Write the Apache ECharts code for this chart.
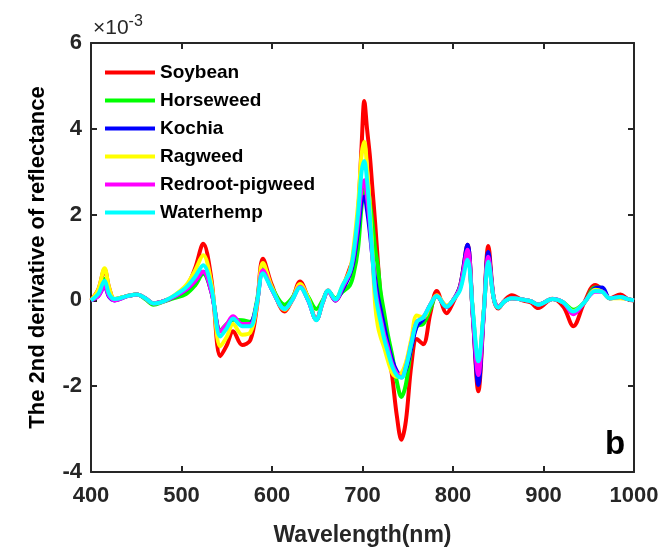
<!DOCTYPE html>
<html><head><meta charset="utf-8">
<script src="https://cdn.jsdelivr.net/npm/echarts@6/dist/echarts.min.js"></script>
<style>html,body{margin:0;padding:0;background:#fff}#c{width:667px;height:552px}</style>
</head><body><div id="c"></div>
<script>
const wavelengths = [400,408,415,420,426,440,451,460,469,480,491,505,515,524,533,543,550,557,567,576,583,590,600,614,622,631,640,649,656,662,670,678,686,690,695,699,702,705,708,711,714,717,720,724,728,733,738,743,748,754,760,767,775,782,793,800,808,816,822,828,834,839,845,850,857,865,877,886,894,910,922,933,945,957,965,973,985,993,1000];

const soybean =    [0,0.25,0.72,0.3,0.03,0.1,0.14,0.05,-0.07,-0.02,0.08,0.3,0.75,1.32,0.5,-1.3,-1.05,-0.72,-1.04,-0.93,-0.2,0.97,0.35,-0.26,0.0,0.44,0.05,-0.45,-0.05,0.23,0.0,0.3,0.75,1.0,2.0,3.6,4.65,4.0,3.4,2.6,1.8,0.9,0.1,-0.5,-1.05,-1.8,-2.7,-3.25,-2.8,-1.5,-0.9,-1.02,-0.3,0.22,-0.3,-0.05,0.35,1.3,-0.4,-2.12,-0.3,1.27,0.05,-0.19,0.0,0.12,0.0,-0.05,-0.18,0.04,-0.15,-0.6,-0.05,0.36,0.25,0.05,0.14,0.03,0];
const horseweed =  [0,0.15,0.5,0.15,0.03,0.1,0.14,0.03,-0.1,-0.03,0.05,0.15,0.35,0.62,0.2,-0.7,-0.55,-0.45,-0.46,-0.5,-0.05,0.75,0.3,-0.1,0.05,0.35,0.08,-0.2,0.0,0.22,0.05,0.2,0.35,0.6,1.2,2.2,2.65,2.7,2.3,1.8,1.2,0.8,0.2,-0.3,-0.8,-1.3,-1.9,-2.25,-1.95,-1.1,-0.6,-0.55,-0.2,0.1,-0.15,0.0,0.3,1.1,-0.3,-1.55,-0.25,0.95,0.05,-0.15,-0.02,0.05,0.02,-0.02,-0.1,0.03,-0.05,-0.22,-0.05,0.3,0.28,0.05,0.08,0.03,0];
const kochia =     [0,0.1,0.33,0.08,0.0,0.1,0.14,0.05,-0.07,-0.02,0.08,0.25,0.45,0.67,0.2,-0.72,-0.6,-0.42,-0.58,-0.55,-0.1,0.7,0.25,-0.2,0.0,0.32,0.0,-0.45,-0.05,0.22,0.0,0.25,0.6,0.9,1.6,2.3,2.42,2.1,1.6,1.0,0.5,0.1,-0.2,-0.6,-1.0,-1.4,-1.65,-1.75,-1.6,-1.1,-0.6,-0.45,-0.1,0.1,-0.15,0.0,0.35,1.3,-0.4,-1.97,-0.3,1.13,0.05,-0.15,-0.02,0.05,0.02,-0.02,-0.1,0.03,-0.05,-0.3,-0.05,0.28,0.3,0.05,0.08,0.03,0];
const ragweed =    [0,0.25,0.75,0.3,0.03,0.1,0.14,0.05,-0.07,-0.02,0.1,0.35,0.7,1.05,0.4,-1.07,-0.85,-0.55,-0.8,-0.75,-0.15,0.87,0.3,-0.22,0.0,0.38,0.05,-0.45,-0.05,0.22,0.02,0.35,0.7,1.2,2.2,3.4,3.7,3.1,2.2,1.1,-0.1,-0.6,-0.85,-1.1,-1.4,-1.7,-1.78,-1.7,-1.45,-0.9,-0.35,-0.4,-0.1,0.12,-0.12,0.0,0.3,1.1,-0.3,-1.55,-0.25,0.95,0.05,-0.15,-0.02,0.05,0.02,-0.02,-0.1,0.03,-0.05,-0.25,-0.05,0.25,0.2,0.05,0.05,0.03,0];
const redroot =    [0,0.1,0.33,0.1,0.0,0.1,0.14,0.05,-0.07,-0.02,0.08,0.25,0.45,0.67,0.2,-0.72,-0.55,-0.37,-0.55,-0.55,-0.1,0.7,0.25,-0.2,0.0,0.32,0.0,-0.45,-0.05,0.22,0.0,0.3,0.65,1.0,1.8,2.6,2.8,2.4,1.8,1.0,0.3,-0.1,-0.4,-0.8,-1.1,-1.5,-1.7,-1.8,-1.55,-1.0,-0.5,-0.4,-0.1,0.1,-0.15,0.0,0.3,1.18,-0.35,-1.74,-0.3,1.02,0.05,-0.15,-0.02,0.05,0.02,-0.02,-0.1,0.03,-0.05,-0.32,-0.05,0.2,0.2,0.05,0.08,0.03,0];
const waterhemp =  [0,0.15,0.46,0.15,0.03,0.1,0.14,0.05,-0.07,-0.02,0.1,0.3,0.55,0.82,0.3,-0.84,-0.65,-0.42,-0.6,-0.6,-0.1,0.63,0.25,-0.2,0.0,0.3,0.0,-0.46,-0.05,0.23,0.02,0.35,0.67,1.1,2.0,3.0,3.25,2.8,2.0,1.0,0.2,-0.2,-0.5,-0.9,-1.2,-1.55,-1.75,-1.8,-1.55,-1.0,-0.5,-0.4,-0.1,0.1,-0.15,0.0,0.25,0.95,-0.25,-1.42,-0.25,0.9,0.05,-0.17,-0.02,0.05,0.02,-0.02,-0.1,0.03,-0.05,-0.26,-0.05,0.22,0.2,0.05,0.08,0.03,0];

const seriesNames = ['Soybean','Horseweed','Kochia','Ragweed','Redroot-pigweed','Waterhemp'];
const seriesValues = [soybean,horseweed,kochia,ragweed,redroot,waterhemp];
const seriesColors = ['#ff0000','#00ff00','#0000ff','#ffff00','#ff00ff','#00ffff'];
const xTicks = {min:400,max:1000,interval:100};
const yTicks = {min:-4,max:6,interval:2};

const FONT = '"Liberation Sans", Arial, sans-serif';
const chart = echarts.init(document.getElementById('c'), null, {renderer:'canvas'});
const axisLineStyle = {color:'#262626', width:2};
const lbl = {color:'#262626', fontWeight:'bold', fontSize:22, fontFamily:FONT};

chart.setOption({
  animation:false,
  backgroundColor:'#fff',
  grid:{left:91, right:33, top:43, bottom:78, containLabel:false},
  legend:{
    orient:'vertical', left:100, top:58, itemWidth:50, itemHeight:4, itemGap:9,
    icon:'rect',
    textStyle:{color:'#000', fontWeight:'bold', fontSize:19, fontFamily:FONT},
    data:seriesNames
  },
  xAxis:[{
    type:'value', min:xTicks.min, max:xTicks.max, interval:xTicks.interval,
    name:'Wavelength(nm)', nameLocation:'middle', nameGap:52,
    nameTextStyle:{color:'#262626', fontWeight:'bold', fontSize:23, fontFamily:FONT},
    axisLine:{show:true, onZero:false, lineStyle:axisLineStyle},
    axisTick:{show:true, inside:true, length:6, lineStyle:{color:'#262626', width:2}},
    axisLabel:Object.assign({margin:13, formatter:v=>String(v)}, lbl),
    splitLine:{show:false}
  },{
    type:'value', position:'top', min:xTicks.min, max:xTicks.max, interval:xTicks.interval,
    axisLine:{show:true, onZero:false, lineStyle:axisLineStyle},
    axisTick:{show:true, inside:true, length:6, lineStyle:{color:'#262626', width:2}},
    axisLabel:{show:false}, splitLine:{show:false}
  }],
  yAxis:[{
    type:'value', min:yTicks.min, max:yTicks.max, interval:yTicks.interval,
    name:'The 2nd derivative of reflectance', nameLocation:'middle', nameGap:42, nameRotate:90,
    nameTextStyle:{color:'#000', fontWeight:'bold', fontSize:22, fontFamily:FONT},
    axisLine:{show:true, onZero:false, lineStyle:axisLineStyle},
    axisTick:{show:true, inside:true, length:6, lineStyle:{color:'#262626', width:2}},
    axisLabel:Object.assign({margin:9}, lbl),
    splitLine:{show:false}
  },{
    type:'value', position:'right', min:yTicks.min, max:yTicks.max, interval:yTicks.interval,
    axisLine:{show:true, onZero:false, lineStyle:axisLineStyle},
    axisTick:{show:true, inside:true, length:6, lineStyle:{color:'#262626', width:2}},
    axisLabel:{show:false}, splitLine:{show:false}
  }],
  graphic:[
    {type:'text', left:93, top:14, style:{
      text:'×10{s|-3}', rich:{s:{fontSize:16, fontFamily:FONT, verticalAlign:'top', padding:[0,0,12,0], fill:'#262626'}},
      font:'21px '+FONT, fill:'#262626'}},
    {type:'text', left:605, top:428, style:{text:'b', font:'bold 33px '+FONT, fill:'#000'}}
  ],
  series: seriesNames.map((n,i)=>({
    name:n, type:'line', xAxisIndex:0, yAxisIndex:0,
    data: wavelengths.map((w,j)=>[w, seriesValues[i][j]]),
    smooth:0.35, symbol:'none', color:seriesColors[i],
    lineStyle:{width:4, color:seriesColors[i]},
    z: 2+i
  }))
});
</script></body></html>
